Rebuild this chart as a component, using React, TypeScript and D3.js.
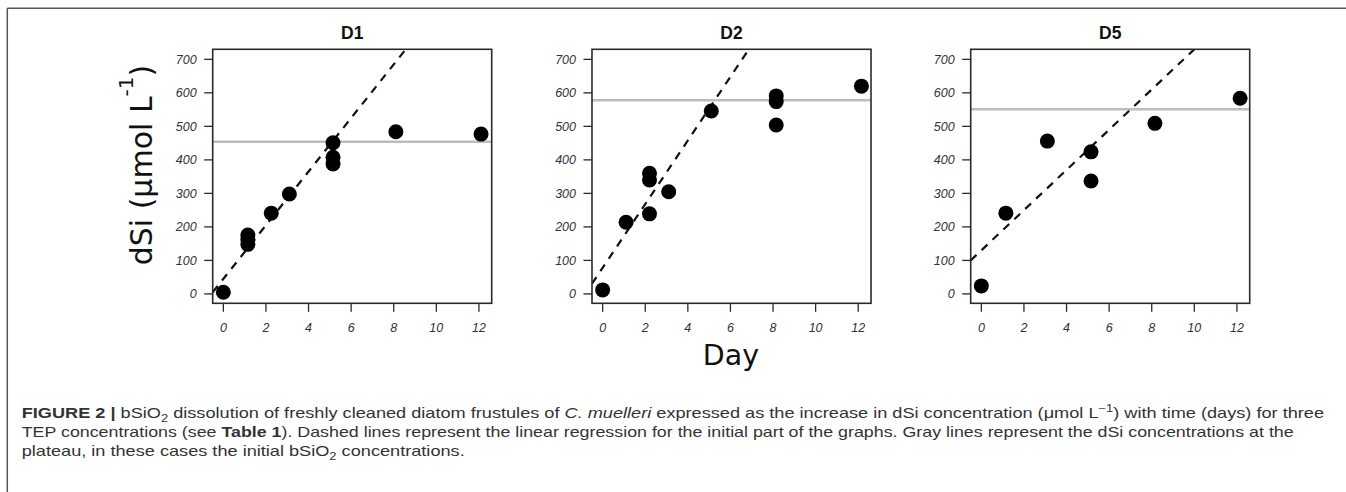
import React, { useEffect, useRef, useState } from "react";
import * as d3 from "d3";

const panelNames = ["D1", "D2", "D5"];

const d1Days = [0, 1.15, 1.15, 1.15, 2.25, 3.1, 5.15, 5.15, 5.15, 8.1, 12.1];
const d1Values = [5, 176, 162, 148, 241, 298, 451, 408, 388, 484, 477];

const d2Days = [0, 1.1, 2.2, 2.2, 2.2, 3.1, 5.1, 8.15, 8.15, 8.15, 12.15];
const d2Values = [12, 214, 360, 340, 239, 305, 546, 591, 574, 504, 620];

const d5Days = [0, 1.15, 3.1, 5.15, 5.15, 8.15, 12.15];
const d5Values = [24, 241, 456, 424, 337, 509, 584];

const plateaus = [454, 578, 551];
const regSlopes = [80, 95, 60];
const regIntercepts = [45, 78, 130];

const xTicks = [0, 2, 4, 6, 8, 10, 12];
const yTicks = [0, 100, 200, 300, 400, 500, 600, 700];

const panelDays = [d1Days, d2Days, d5Days];
const panelValues = [d1Values, d2Values, d5Values];

const W = 1346;
const H = 492;
const panelLefts = [212.7, 592, 970.7];
const panelW = 279;
const panelTop = 49.3;
const panelH = 254;

const x = d3.scaleLinear().domain([-0.5, 12.6]).range([0, panelW]);
const y = d3.scaleLinear().domain([-28, 730]).range([panelH, 0]);

const tickFont = "'Liberation Sans', Arial, sans-serif";

function Panel({ idx }: { idx: number }) {
  const left = panelLefts[idx];
  const days = panelDays[idx];
  const vals = panelValues[idx];
  const slope = regSlopes[idx];
  const icpt = regIntercepts[idx];
  const [x0, x1] = x.domain();
  const line = d3
    .line<number>()
    .x((d) => x(d))
    .y((d) => y(icpt + slope * d));
  const clipId = `clip-${idx}`;
  return (
    <g transform={`translate(${left},${panelTop})`}>
      <defs>
        <clipPath id={clipId}>
          <rect x={0} y={0} width={panelW} height={panelH} />
        </clipPath>
      </defs>
      <text
        x={panelW / 2}
        y={-10}
        textAnchor="middle"
        fontFamily={tickFont}
        fontWeight="bold"
        fontSize={17.5}
        fill="#111"
      >
        {panelNames[idx]}
      </text>
      <g clipPath={`url(#${clipId})`}>
        <line
          x1={0}
          x2={panelW}
          y1={y(plateaus[idx])}
          y2={y(plateaus[idx])}
          stroke="#bcbcbc"
          strokeWidth={2.6}
        />
        <path
          d={line([x0, x1]) || ""}
          fill="none"
          stroke="#111"
          strokeWidth={2.2}
          strokeDasharray="8,7"
        />
      </g>
      {days.map((d, i) => (
        <circle key={i} cx={x(d)} cy={y(vals[i])} r={7.5} fill="#000" />
      ))}
      <rect
        x={0}
        y={0}
        width={panelW}
        height={panelH}
        fill="none"
        stroke="#2a2a2a"
        strokeWidth={1.6}
      />
      {yTicks.map((t) => (
        <g key={t} transform={`translate(0,${y(t)})`}>
          <line x1={-8.5} x2={0} stroke="#2a2a2a" strokeWidth={1.3} />
          <text
            x={-16}
            dy="0.35em"
            textAnchor="end"
            fontFamily={tickFont}
            fontStyle="italic"
            fontSize={12.5}
            fill="#333"
          >
            {t}
          </text>
        </g>
      ))}
      {xTicks.map((t) => (
        <g key={t} transform={`translate(${x(t)},${panelH})`}>
          <line y1={0} y2={8.5} stroke="#2a2a2a" strokeWidth={1.3} />
          <text
            y={29}
            textAnchor="middle"
            fontFamily={tickFont}
            fontStyle="italic"
            fontSize={12.5}
            fill="#333"
          >
            {t}
          </text>
        </g>
      ))}
    </g>
  );
}

const capFont = "'Liberation Sans', Arial, Helvetica, sans-serif";
const capLeft = 21.7;
const capLine1Width = 1302;
const capLine2Width = 1272;

export default function App() {
  const line1Ref = useRef<SVGTextElement | null>(null);
  const [sx, setSx] = useState(1.14);

  useEffect(() => {
    const el = line1Ref.current;
    if (el) {
      const w = el.getBBox().width;
      if (w > 0) setSx(capLine1Width / w);
    }
  }, []);

  return (
    <svg
      width={W}
      height={H}
      style={{ position: "absolute", left: 0, top: 0, background: "#fff" }}
    >
      <rect x={0} y={0} width={W} height={H} fill="#fff" />
      <line x1={7.3} x2={W} y1={8.3} y2={8.3} stroke="#555" strokeWidth={1.5} />
      <line x1={7.3} x2={7.3} y1={8.3} y2={H} stroke="#555" strokeWidth={1.5} />

      {panelNames.map((_, i) => (
        <Panel key={i} idx={i} />
      ))}

      <text
        transform="translate(151.5,165) rotate(-90)"
        textAnchor="middle"
        fontFamily="'DejaVu Sans', sans-serif"
        fontSize={30}
        fill="#111"
      >
        <tspan>dSi (µmol L</tspan>
        <tspan dy={-19} fontSize={20}>-1</tspan>
        <tspan dy={19}>)</tspan>
      </text>

      <text
        x={731}
        y={364.5}
        textAnchor="middle"
        fontFamily="'DejaVu Sans', sans-serif"
        fontSize={28.5}
        fill="#111"
      >
        Day
      </text>

      <g
        transform={`translate(${capLeft},0) scale(${sx},1)`}
        fontFamily={capFont}
        fontSize={14}
        fill="#333"
      >
        <text ref={line1Ref} x={0} y={418}>
          <tspan fontWeight="bold">FIGURE 2 |</tspan>
          <tspan> bSiO</tspan>
          <tspan dy={4} fontSize={10}>2</tspan>
          <tspan dy={-4}> dissolution of freshly cleaned diatom frustules of </tspan>
          <tspan fontStyle="italic">C. muelleri</tspan>
          <tspan> expressed as the increase in dSi concentration (μmol L</tspan>
          <tspan dy={-6} fontSize={10}>−1</tspan>
          <tspan dy={6}>) with time (days) for three</tspan>
        </text>
        <text
          x={0}
          y={437}
          textLength={capLine2Width / sx}
          lengthAdjust="spacingAndGlyphs"
        >
          <tspan>TEP concentrations (see </tspan>
          <tspan fontWeight="bold">Table 1</tspan>
          <tspan>). Dashed lines represent the linear regression for the initial part of the graphs. Gray lines represent the dSi concentrations at the</tspan>
        </text>
        <text x={0} y={456}>
          <tspan>plateau, in these cases the initial bSiO</tspan>
          <tspan dy={4} fontSize={10}>2</tspan>
          <tspan dy={-4}> concentrations.</tspan>
        </text>
      </g>
    </svg>
  );
}
